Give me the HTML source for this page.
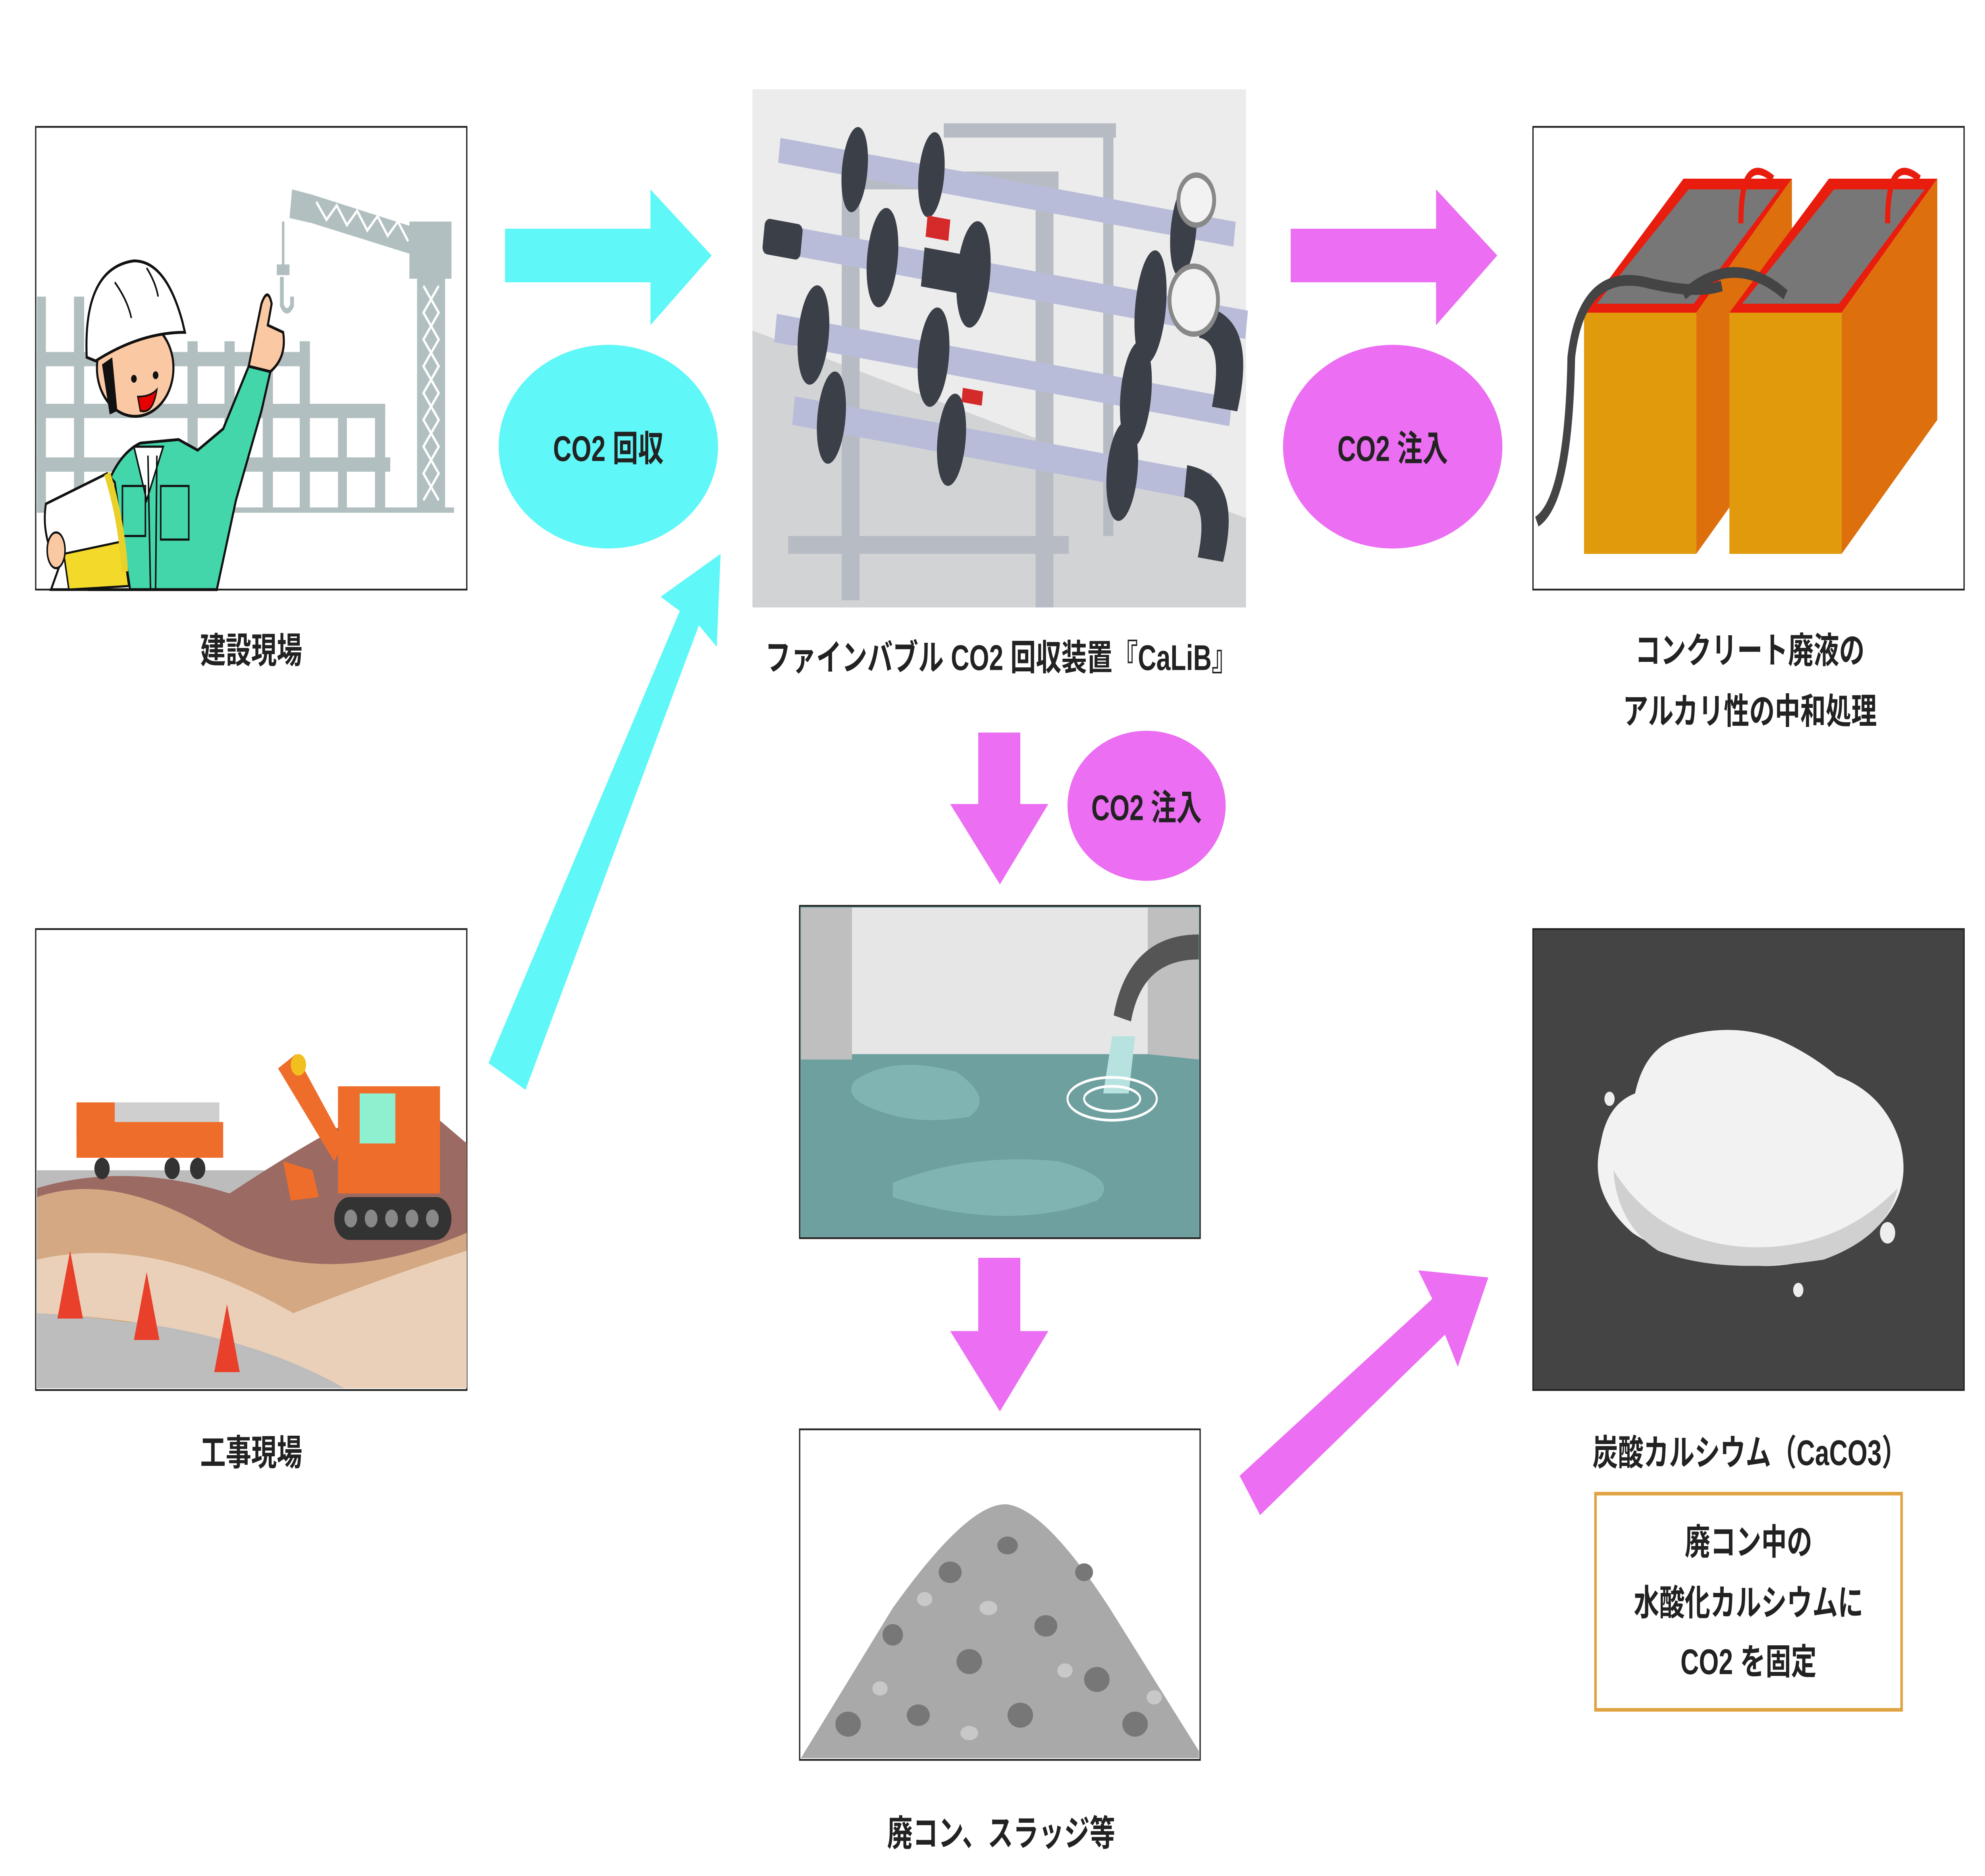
<!DOCTYPE html>
<html><head><meta charset="utf-8"><style>
html,body{margin:0;padding:0;background:#fff;width:100%;height:100%;overflow:hidden;}
svg{display:block;width:100vw;height:100vh;}
text{font-family:"Liberation Sans","Noto Sans CJK JP",sans-serif;font-weight:bold;fill:#222;}
</style></head><body>
<svg viewBox="0 0 1556.4 1050" preserveAspectRatio="none" xmlns="http://www.w3.org/2000/svg">
<rect width="1556.4" height="1050" fill="#fff"/>

<!-- Box 1 : 建設現場 -->
<rect x="28" y="71" width="338" height="259" fill="#fff" stroke="#222" stroke-width="1"/>
<g fill="#b2bfc0">
 <!-- scaffolding verticals -->
 <rect x="29" y="166" width="7" height="119"/><rect x="58" y="166" width="8" height="119"/>
 <rect x="147" y="191" width="8" height="94"/><rect x="176" y="191" width="8" height="94"/>
 <rect x="206" y="191" width="8" height="94"/><rect x="235" y="191" width="8" height="94"/>
 <rect x="265" y="226" width="7" height="59"/><rect x="294" y="226" width="8" height="59"/>
 <!-- horizontals -->
 <rect x="29" y="197" width="214" height="8"/><rect x="29" y="226" width="273" height="8"/>
 <rect x="29" y="256" width="277" height="8"/><rect x="29" y="284" width="327" height="3"/>
 <!-- crane -->
 <polygon points="229,106 245,109 328,128 330,144 245,125 227,122"/>
 <rect x="321" y="124" width="33" height="32"/>
 <rect x="327" y="156" width="22" height="129"/>
 <rect x="221" y="124" width="2" height="26"/>
 <rect x="217" y="148" width="10" height="6"/>
</g>
<g stroke="#fff" stroke-width="1.6" fill="none">
 <path d="M332 160 L344 175 L332 190 L344 205 L332 220 L344 235 L332 250 L344 265 L332 280"/>
 <path d="M344 160 L332 175 L344 190 L332 205 L344 220 L332 235 L344 250 L332 265 L344 280"/>
 <path d="M248 113 L256 123 L264 115 L272 126 L280 118 L288 129 L296 121 L304 132 L312 124 L320 135"/>
</g>
<path d="M221 155 L221 171 Q225 177 229 171 L229 166" fill="none" stroke="#b2bfc0" stroke-width="3"/>
<!-- worker -->
<path d="M70 330 Q75 260 110 248 L140 246 L155 252 L175 240 L195 205 L212 208 L205 230 L185 280 L170 330 Z" fill="#44d6ab" stroke="#111" stroke-width="1.6"/>
<path d="M105 250 L115 280 L128 250 Z" fill="#fff" stroke="#111" stroke-width="1.2"/>
<rect x="96" y="272" width="18" height="28" fill="none" stroke="#111" stroke-width="1.2"/>
<rect x="126" y="272" width="22" height="30" fill="none" stroke="#111" stroke-width="1.2"/>
<path d="M116 255 L118 330 M123 255 L122 330" stroke="#111" stroke-width="1.2"/>
<ellipse cx="106" cy="206" rx="30" ry="27" fill="#fbc8a4" stroke="#111" stroke-width="1.6"/>
<path d="M80 204 L86 232 L92 230 L88 200 Z" fill="#111"/>
<path d="M108 222 Q118 222 123 218 Q120 232 110 230 Z" fill="#e60000" stroke="#111" stroke-width="1"/>
<circle cx="105" cy="212" r="2.2" fill="#111"/><circle cx="122" cy="210" r="2.2" fill="#111"/>
<path d="M68 200 Q65 150 105 146 Q130 146 143 180 L145 186 Q110 186 75 202 Z" fill="#fff" stroke="#111" stroke-width="1.6"/>
<path d="M90 158 Q100 168 103 178 M115 150 Q122 158 124 166" stroke="#111" stroke-width="1.2" fill="none"/>
<path d="M195 205 L205 170 Q210 160 213 170 L210 182 L222 186 Q225 200 212 208 Z" fill="#fbc8a4" stroke="#111" stroke-width="1.6"/>
<path d="M36 282 Q32 300 46 318 L40 330 L102 330 L96 300 L90 270 L84 265 Z" fill="#fff" stroke="#111" stroke-width="1.5"/>
<path d="M50 310 L96 303 L101 328 L54 330 Z" fill="#f2d92a" stroke="#111" stroke-width="1.2"/>
<path d="M84 265 Q95 290 98 320" fill="none" stroke="#e9d12a" stroke-width="5"/>
<ellipse cx="44" cy="308" rx="7" ry="10" fill="#fbc8a4" stroke="#111" stroke-width="1.2"/>
<text x="197" y="371" font-size="20" text-anchor="middle">建設現場</text>

<!-- Box 2 : 工事現場 -->
<rect x="28" y="520" width="338" height="258" fill="#fff" stroke="#222" stroke-width="1"/>
<path d="M29 655 L366 655 L366 777 L29 777 Z" fill="#bcbcbc"/>
<path d="M29 665 Q100 650 180 668 Q260 630 320 612 L366 640 L366 720 L29 720 Z" fill="#9b6a62"/>
<path d="M29 670 Q90 655 170 690 Q250 725 366 690 L366 740 L29 740 Z" fill="#d3a882"/>
<path d="M29 705 Q120 690 230 735 Q300 715 366 700 L366 777 L270 777 Q180 740 29 735 Z" fill="#ead0b8"/>
<path d="M29 735 Q160 740 270 777 L29 777 Z" fill="#bdbdbd"/>
<rect x="60" y="628" width="115" height="20" fill="#ef6d2a"/>
<rect x="60" y="617" width="30" height="18" fill="#ef6d2a"/>
<rect x="90" y="617" width="82" height="11" fill="#cfcfcf"/>
<circle cx="80" cy="654" r="6" fill="#333"/><circle cx="135" cy="654" r="6" fill="#333"/><circle cx="155" cy="654" r="6" fill="#333"/>
<path d="M218 598 L232 590 L270 640 L262 650 Z" fill="#ef6d2a"/>
<circle cx="234" cy="596" r="6" fill="#f2c01e"/>
<path d="M222 650 L245 655 L250 670 L228 672 Z" fill="#ef6d2a"/>
<rect x="265" y="608" width="80" height="60" fill="#ef6d2a"/>
<rect x="282" y="612" width="28" height="28" fill="#8ff0cf"/>
<rect x="262" y="670" width="92" height="24" rx="12" fill="#333"/>
<g fill="#888"><circle cx="275" cy="682" r="5"/><circle cx="291" cy="682" r="5"/><circle cx="307" cy="682" r="5"/><circle cx="323" cy="682" r="5"/><circle cx="339" cy="682" r="5"/></g>
<polygon points="55,700 45,738 65,738" fill="#e8402a"/>
<polygon points="115,712 105,750 125,750" fill="#e8402a"/>
<polygon points="178,730 168,768 188,768" fill="#e8402a"/>
<text x="197" y="820" font-size="20" text-anchor="middle">工事現場</text>

<!-- Cyan arrows -->
<polygon points="396,128 510,128 510,106 558,143 510,182 510,158 396,158" fill="#5ff7f7"/>
<polygon points="383,595 533,342 518,334 565,310 562,362 548,350 412,610" fill="#5ff7f7"/>
<ellipse cx="477" cy="250" rx="86" ry="57" fill="#5ff7f7"/>
<text x="477" y="258" font-size="20" text-anchor="middle">CO2 回収</text>

<!-- Photo -->
<rect x="590" y="50" width="387" height="290" fill="#ececec"/>
<polygon points="590,185 977,290 977,340 590,340" fill="#d2d3d5"/>
<g fill="#b7bcc4">
 <rect x="740" y="69" width="135" height="8"/>
 <rect x="660" y="96" width="170" height="10"/>
 <rect x="660" y="96" width="14" height="240"/>
 <rect x="812" y="100" width="14" height="240"/>
 <rect x="865" y="70" width="8" height="230"/>
 <rect x="618" y="300" width="220" height="10"/>
</g>
<g transform="rotate(7.5 780 180)">
 <g fill="#b8bcd8">
  <rect x="600" y="100" width="360" height="14"/>
  <rect x="596" y="148" width="380" height="16"/>
  <rect x="610" y="198" width="360" height="16"/>
  <rect x="630" y="242" width="330" height="16"/>
 </g>
 <g fill="#3b3f48">
  <rect x="594" y="146" width="30" height="20" rx="4"/>
  <ellipse cx="688" cy="156" rx="12" ry="28"/><ellipse cx="760" cy="156" rx="13" ry="30"/>
  <ellipse cx="900" cy="156" rx="12" ry="32"/><ellipse cx="920" cy="110" rx="10" ry="26"/>
  <ellipse cx="640" cy="206" rx="12" ry="28"/><ellipse cx="735" cy="206" rx="12" ry="28"/>
  <ellipse cx="895" cy="206" rx="12" ry="30"/><ellipse cx="660" cy="250" rx="11" ry="26"/>
  <ellipse cx="755" cy="250" rx="11" ry="26"/><ellipse cx="890" cy="250" rx="12" ry="28"/>
  <ellipse cx="720" cy="105" rx="10" ry="24"/><ellipse cx="660" cy="110" rx="10" ry="24"/>
  <rect x="720" y="146" width="40" height="22"/>
  <path d="M940 150 Q985 150 975 205 L955 205 Q960 168 940 168 Z"/>
  <path d="M940 240 Q985 240 975 290 L955 290 Q960 258 940 258 Z"/>
 </g>
 <rect x="720" y="128" width="18" height="12" fill="#d52a2a"/>
 <rect x="760" y="220" width="16" height="8" fill="#d52a2a"/>
</g>
<circle cx="938" cy="112" r="14" fill="#f2f2f2" stroke="#888" stroke-width="3"/>
<circle cx="936" cy="168" r="19" fill="#f2f2f2" stroke="#888" stroke-width="3"/>
<text x="785" y="375" font-size="20" text-anchor="middle">ファインバブル CO2 回収装置『CaLiB』</text>

<!-- Magenta arrow right -->
<polygon points="1012,128 1126,128 1126,106 1174,143 1126,182 1126,158 1012,158" fill="#ec6ef2"/>
<ellipse cx="1092" cy="250" rx="86" ry="57" fill="#ec6ef2"/>
<text x="1092" y="258" font-size="20" text-anchor="middle">CO2 注入</text>

<!-- Box 3 tanks -->
<rect x="1202" y="71" width="338" height="259" fill="#fff" stroke="#222" stroke-width="1"/>
<g>
 <polygon points="1242,175 1320,100 1405,100 1330,175" fill="#e81d0e"/>
 <polygon points="1252,170 1324,106 1395,106 1328,170" fill="#777"/>
 <rect x="1242" y="175" width="88" height="135" fill="#e19a0c"/>
 <polygon points="1330,175 1405,100 1405,235 1330,310" fill="#dd6f0d"/>
 <polygon points="1356,175 1434,100 1519,100 1444,175" fill="#e81d0e"/>
 <polygon points="1366,170 1438,106 1509,106 1442,170" fill="#777"/>
 <rect x="1356" y="175" width="88" height="135" fill="#e19a0c"/>
 <polygon points="1444,175 1519,100 1519,235 1444,310" fill="#dd6f0d"/>
</g>
<path d="M1205 292 Q1230 280 1232 200 Q1240 150 1290 158 Q1330 165 1350 160" fill="none" stroke="#444" stroke-width="6"/>
<path d="M1320 165 Q1360 140 1400 165" fill="none" stroke="#444" stroke-width="6"/>
<path d="M1365 125 Q1365 85 1390 100" fill="none" stroke="#e81d0e" stroke-width="4"/>
<path d="M1480 125 Q1480 85 1505 100" fill="none" stroke="#e81d0e" stroke-width="4"/>
<text x="1372" y="371" font-size="20" text-anchor="middle">コンクリート廃液の</text>
<text x="1372" y="405" font-size="20" text-anchor="middle">アルカリ性の中和処理</text>

<!-- Down arrow 1 -->
<polygon points="767,410 800,410 800,450 822,450 784,495 745,450 767,450" fill="#ec6ef2"/>
<ellipse cx="899" cy="451" rx="62" ry="42" fill="#ec6ef2"/>
<text x="899" y="459" font-size="20" text-anchor="middle">CO2 注入</text>

<!-- Water box -->
<rect x="627" y="507" width="314" height="186" fill="#7aa9a6" stroke="#222" stroke-width="1"/>
<rect x="628" y="508" width="40" height="85" fill="#bfbfbf"/>
<rect x="668" y="508" width="232" height="85" fill="#e6e6e6"/>
<rect x="900" y="508" width="40" height="85" fill="#bfbfbf"/>
<path d="M628 593 L668 593 L668 590 L900 590 L940 593 L940 692 L628 692 Z" fill="#6fa0a0"/>
<path d="M670 605 Q700 590 750 600 Q780 615 760 625 Q720 630 690 622 Q660 615 670 605Z" fill="#80b4b3"/>
<path d="M700 662 Q760 645 830 650 Q880 660 860 672 Q790 690 700 670Z" fill="#80b4b3"/>
<path d="M880 570 Q890 530 940 530" fill="none" stroke="#555" stroke-width="14"/>
<path d="M872 580 L890 580 L885 612 L865 612 Z" fill="#b8e2e0"/>
<ellipse cx="872" cy="615" rx="35" ry="12" fill="none" stroke="#fff" stroke-width="1.5"/>
<ellipse cx="872" cy="615" rx="22" ry="7" fill="none" stroke="#fff" stroke-width="1.5"/>

<!-- Down arrow 2 -->
<polygon points="767,704 800,704 800,745 822,745 784,790 745,745 767,745" fill="#ec6ef2"/>

<!-- Pile box -->
<rect x="627" y="800" width="314" height="185" fill="#fff" stroke="#222" stroke-width="1"/>
<path d="M628 984 L700 900 Q760 840 790 842 Q820 845 870 900 L940 980 L940 984 Z" fill="#a9a9a9"/>
<g fill="#777">
 <ellipse cx="700" cy="915" rx="8" ry="6"/><ellipse cx="745" cy="880" rx="9" ry="6"/><ellipse cx="790" cy="865" rx="8" ry="5"/>
 <ellipse cx="760" cy="930" rx="10" ry="7"/><ellipse cx="820" cy="910" rx="9" ry="6"/><ellipse cx="860" cy="940" rx="10" ry="7"/>
 <ellipse cx="665" cy="965" rx="10" ry="7"/><ellipse cx="720" cy="960" rx="9" ry="6"/><ellipse cx="800" cy="960" rx="10" ry="7"/>
 <ellipse cx="890" cy="965" rx="10" ry="7"/><ellipse cx="850" cy="880" rx="7" ry="5"/>
</g>
<g fill="#c8c8c8">
 <ellipse cx="725" cy="895" rx="6" ry="4"/><ellipse cx="775" cy="900" rx="7" ry="4"/><ellipse cx="835" cy="935" rx="6" ry="4"/>
 <ellipse cx="690" cy="945" rx="6" ry="4"/><ellipse cx="760" cy="970" rx="7" ry="4"/><ellipse cx="905" cy="950" rx="6" ry="4"/>
</g>
<text x="785" y="1033" font-size="20" text-anchor="middle">廃コン、スラッジ等</text>

<!-- Diagonal magenta arrow -->
<polygon points="972,826 1123,727 1112,711 1167,715 1143,765 1133,747 988,848" fill="#ec6ef2"/>

<!-- Dark box -->
<rect x="1202" y="520" width="338" height="258" fill="#444" stroke="#222" stroke-width="1"/>
<path d="M1255 640 Q1260 618 1282 612 Q1290 585 1320 580 Q1360 572 1395 582 Q1420 590 1440 602 Q1478 612 1490 640 Q1500 668 1470 688 Q1420 712 1370 708 Q1310 705 1280 690 Q1245 668 1255 640Z" fill="#f2f2f2"/>
<path d="M1265 655 Q1300 695 1370 698 Q1440 700 1488 665 Q1480 692 1430 705 Q1350 714 1300 700 Q1268 685 1265 655Z" fill="#d0d0d0"/>
<circle cx="1262" cy="615" r="4" fill="#eee"/><circle cx="1480" cy="690" r="6" fill="#eee"/><circle cx="1410" cy="722" r="4" fill="#eee"/>
<text x="1372" y="820" font-size="20" text-anchor="middle">炭酸カルシウム（CaCO3）</text>

<rect x="1251" y="836" width="240" height="121" fill="#fff" stroke="#e0a341" stroke-width="2"/>
<text x="1371" y="870" font-size="20" text-anchor="middle">廃コン中の</text>
<text x="1371" y="904" font-size="20" text-anchor="middle">水酸化カルシウムに</text>
<text x="1371" y="937" font-size="20" text-anchor="middle">CO2 を固定</text>
</svg>
</body></html>
